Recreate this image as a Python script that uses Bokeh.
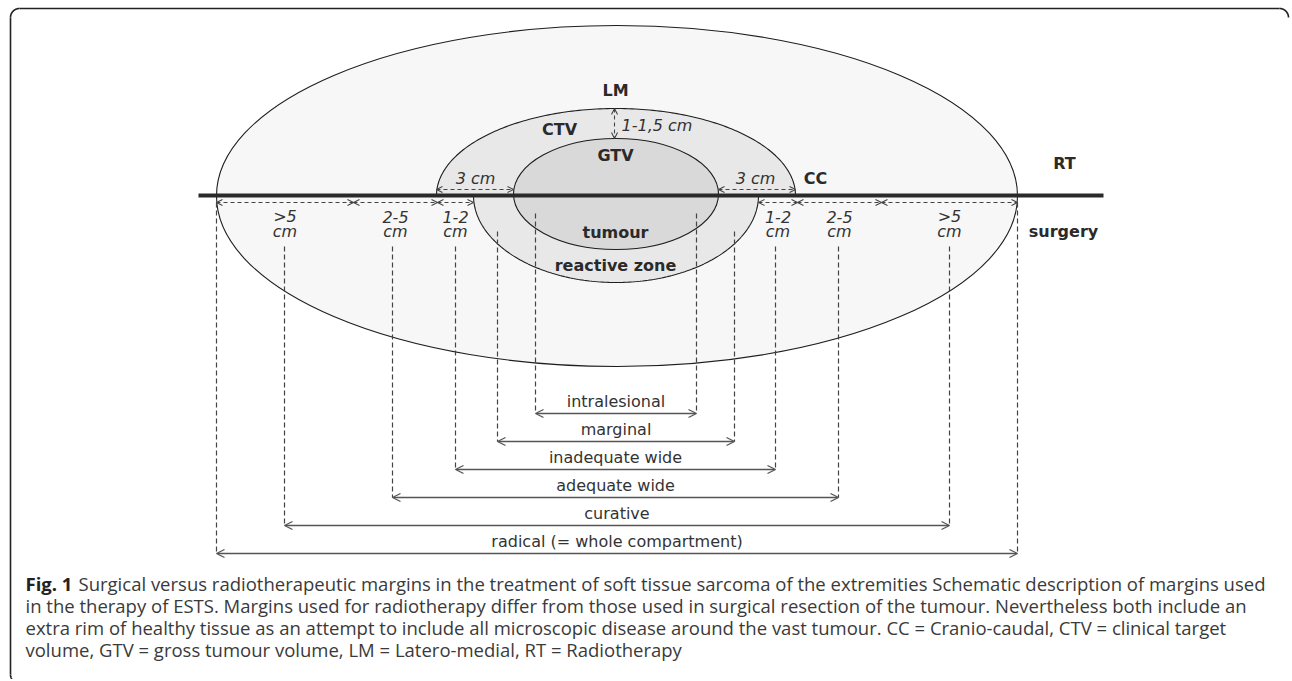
import numpy as np
from bokeh.plotting import figure
from bokeh.models import Range1d, Arrow, OpenHead, ColumnDataSource
from bokeh.core.properties import value
from bokeh.embed import file_html
from bokeh.resources import INLINE

# ---------------- schematic data (image pixel space) ----------------
outer_ell = dict(cx=616.5, cy=195.5, rx=400.5, ry=170.5)
ctv_half = dict(cx=615.5, cy=195.0, rx=179.5, ry=87.0)
reactive_half = dict(cx=615.5, cy=195.0, rx=142.5, ry=87.0)
tumour_ell = dict(cx=615.5, cy=193.5, rx=102.5, ry=55.5)
axis_line_y = 195
axis_line_x = [198, 1103]

# radiotherapy margins (above line)
rt_arrow_x0 = [436, 718]
rt_arrow_x1 = [513, 795]
rt_labels = ["3 cm", "3 cm"]
rt_label_x = [475, 755]
lm_arrow = dict(x=614, y0=108, y1=138)
lm_label = "1-1,5 cm"

# surgical distance bands (below line)
band_left = [216, 353, 437, 758, 797, 881]
band_right = [353, 437, 473, 797, 881, 1017]
band_value = [">5", "2-5", "1-2", "1-2", "2-5", ">5"]
band_unit = ["cm", "cm", "cm", "cm", "cm", "cm"]

# surgical margins
margin_names = ["intralesional", "marginal", "inadequate wide",
                "adequate wide", "curative", "radical (= whole compartment)"]
margin_left = [535, 497, 455, 392, 284, 216]
margin_right = [696, 734, 775, 838, 949, 1017]
margin_row = [413, 441, 469, 497, 525, 553]
margin_top = [213, 231, 246, 246, 246, 202]

# bold region labels
region_labels = ["LM", "CTV", "GTV", "CC", "RT", "surgery", "tumour", "reactive zone"]
region_x = [615, 559, 615, 815, 1064, 1063, 615, 615]
region_y = [90, 129, 155, 178, 163, 231, 232, 265]

caption_lines = [
    "Surgical versus radiotherapeutic margins in the treatment of soft tissue sarcoma of the extremities Schematic description of margins used",
    "in the therapy of ESTS. Margins used for radiotherapy differ from those used in surgical resection of the tumour. Nevertheless both include an",
    "extra rim of healthy tissue as an attempt to include all microscopic disease around the vast tumour. CC = Cranio-caudal, CTV = clinical target",
    "volume, GTV = gross tumour volume, LM = Latero-medial, RT = Radiotherapy",
]
caption_y = [583, 605, 627, 649]

# ---------------- figure ----------------
W, H = 1290, 679
p = figure(width=W, height=H, x_range=Range1d(0, W), y_range=Range1d(H, 0),
           output_backend="svg", toolbar_location=None, min_border=0,
           x_axis_type=None, y_axis_type=None)
p.grid.visible = False
p.outline_line_color = None
p.background_fill_color = "white"
p.border_fill_color = "white"

EDGE = "#1e1e1e"
TXT = "#333333"
DIAG_FONT = value("DejaVu Sans")
FS = "16px"

# frame (rounded corners)
r = 9
FR = "#222222"
p.line(x=[10 + r, 1288 - r], y=[8, 8], line_color=FR, line_width=1.6)
p.line(x=[10, 10], y=[8 + r, 674], line_color=FR, line_width=1.6)
t = np.linspace(np.pi, 1.5 * np.pi, 20)
p.line(x=10 + r + r * np.cos(t), y=8 + r + r * np.sin(t), line_color=FR, line_width=1.6)
t2 = np.linspace(1.5 * np.pi, 2 * np.pi, 20)
p.line(x=1288 - r + r * np.cos(t2), y=8 + r + r * np.sin(t2), line_color=FR, line_width=1.6)
t3 = np.linspace(0.6 * np.pi, np.pi, 20)
p.line(x=10 + r + r * np.cos(t3), y=674 + r * np.sin(t3), line_color=FR, line_width=1.6)

# outer ellipse
p.ellipse(x=outer_ell["cx"], y=outer_ell["cy"], width=2 * outer_ell["rx"], height=2 * outer_ell["ry"],
          fill_color="#f7f7f7", line_color=EDGE, line_width=1.1)

def half(e, upper):
    tt = np.linspace(0, np.pi, 160)
    xs = e["cx"] + e["rx"] * np.cos(tt)
    ys = e["cy"] - e["ry"] * np.sin(tt) if upper else e["cy"] + e["ry"] * np.sin(tt)
    return xs, ys

xs, ys = half(ctv_half, True)
p.patch(x=xs, y=ys, fill_color="#e8e8e8", line_color=None)
p.line(x=xs, y=ys, line_color=EDGE, line_width=1.1)
xs, ys = half(reactive_half, False)
p.patch(x=xs, y=ys, fill_color="#e8e8e8", line_color=None)
p.line(x=xs, y=ys, line_color=EDGE, line_width=1.1)

p.ellipse(x=tumour_ell["cx"], y=tumour_ell["cy"], width=2 * tumour_ell["rx"], height=2 * tumour_ell["ry"],
          fill_color="#d9d9d9", line_color=EDGE, line_width=1.1)

# thick separating line
p.line(x=axis_line_x, y=[axis_line_y, axis_line_y], line_color="#2a2a2a", line_width=4)

def dashed_arrows(x0, x1, y0, y1):
    src = ColumnDataSource(dict(x0=x0, x1=x1, y0=y0, y1=y1))
    p.add_layout(Arrow(x_start="x0", y_start="y0", x_end="x1", y_end="y1", source=src,
                       line_color="#444444", line_width=1.1, line_dash="4 3",
                       start=OpenHead(size=6, line_color="#444444", line_width=1.1),
                       end=OpenHead(size=6, line_color="#444444", line_width=1.1)))

dashed_arrows(rt_arrow_x0, rt_arrow_x1, [189, 189], [189, 189])
dashed_arrows([lm_arrow["x"]], [lm_arrow["x"]], [lm_arrow["y0"]], [lm_arrow["y1"]])
dashed_arrows(band_left, band_right, [202] * len(band_left), [202] * len(band_left))

# vertical dashed drop lines
for xl, xr, yt, yb in zip(margin_left, margin_right, margin_top, margin_row):
    p.segment(x0=[xl, xr], y0=[yt, yt], x1=[xl, xr], y1=[yb, yb],
              line_color="#444444", line_width=1.2, line_dash="5 3")

# margin arrows
msrc = ColumnDataSource(dict(x0=margin_left, x1=margin_right, y=margin_row))
p.add_layout(Arrow(x_start="x0", y_start="y", x_end="x1", y_end="y", source=msrc,
                   line_color="#555555", line_width=1.5,
                   start=OpenHead(size=8, line_color="#555555", line_width=1.3),
                   end=OpenHead(size=8, line_color="#555555", line_width=1.3)))

# margin labels
p.text(x=[(a + b) / 2 for a, b in zip(margin_left, margin_right)],
       y=[yy - 12 for yy in margin_row], text=margin_names,
       text_font=DIAG_FONT, text_font_size=FS, text_color=TXT,
       text_align="center", text_baseline="middle")

# band labels
band_cx = [(a + b) / 2 for a, b in zip(band_left, band_right)]
p.text(x=band_cx, y=[216] * len(band_cx), text=band_value, text_font=DIAG_FONT,
       text_font_size=FS, text_font_style="italic", text_color=TXT,
       text_align="center", text_baseline="middle")
p.text(x=band_cx, y=[231] * len(band_cx), text=band_unit, text_font=DIAG_FONT,
       text_font_size=FS, text_font_style="italic", text_color=TXT,
       text_align="center", text_baseline="middle")

# RT labels
p.text(x=rt_label_x, y=[178, 178], text=rt_labels, text_font=DIAG_FONT,
       text_font_size=FS, text_font_style="italic", text_color=TXT,
       text_align="center", text_baseline="middle")
p.text(x=[lm_arrow["x"] + 7], y=[125], text=[lm_label], text_font=DIAG_FONT,
       text_font_size=FS, text_font_style="italic", text_color=TXT,
       text_align="left", text_baseline="middle")

# region labels
p.text(x=region_x, y=region_y, text=region_labels, text_font=DIAG_FONT,
       text_font_size=FS, text_font_style="bold", text_color="#2a2a2a",
       text_align="center", text_baseline="middle")

# caption
CAP_FONT = value("Open Sans")
CFS = "18.5px"
p.text(x=[25], y=[caption_y[0]], text=["Fig. 1"], text_font=CAP_FONT, text_font_size=CFS,
       text_font_style="bold", text_color="#222222", text_align="left", text_baseline="middle")
p.text(x=[78, 25, 25, 25], y=caption_y, text=caption_lines, text_font=CAP_FONT,
       text_font_size=CFS, text_color="#3a3a3a", text_align="left", text_baseline="middle")

open("out.html", "w").write(file_html(p, INLINE))
